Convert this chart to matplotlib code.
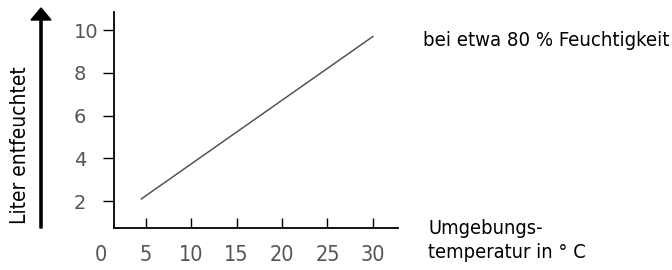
import matplotlib
matplotlib.use('Agg')
from matplotlib import pyplot as plt


# Temperatur (°C) und Liter entfeuchtet
temp = [4.5, 30]
liter = [2.1, 9.7]

x_ticks = [0, 5, 10, 15, 20, 25, 30]
y_ticks = [2, 4, 6, 8, 10]

narrow = dict(family='DejaVu Sans', stretch='condensed')


def main():
	fig = plt.figure(figsize=(6.72, 2.70), dpi=100)
	ax = fig.add_axes([0.1427, 0.1556, 0.4499, 0.80])

	ax.plot(temp, liter, color='#555555', lw=1.1)

	ax.set_xlim(-0.5, 32.8)
	ax.set_ylim(0.74, 10.85)

	for s in ['top', 'right']:
		ax.spines[s].set_visible(False)
	ax.spines['left'].set_position(('data', 1.5))
	ax.spines['bottom'].set_bounds(1.5, 32.8)
	for s in ['left', 'bottom']:
		ax.spines[s].set_linewidth(1.3)

	ax.set_xticks(x_ticks)
	ax.set_xticklabels([str(v) for v in x_ticks], fontsize=15.5, color='#555555', **narrow)
	ax.tick_params(axis='x', direction='in', length=7.5, width=1, pad=12.5)
	ax.xaxis.get_major_ticks()[0].tick1line.set_visible(False)

	ax.set_yticks(y_ticks)
	ax.set_yticklabels([str(v) for v in y_ticks], fontsize=14, color='#555555')
	ax.tick_params(axis='y', direction='out', length=8, width=1, pad=21)
	for lab in ax.get_yticklabels():
		lab.set_horizontalalignment('left')

	# Pfeil und Achsentitel links
	fig.patches.append(matplotlib.patches.FancyArrow(
		41 / 672, 1 - 228 / 270, 0, (228 - 8) / 270, width=0.0032,
		head_width=20 / 672, head_length=12 / 270, length_includes_head=True,
		color='black', transform=fig.transFigure, figure=fig))
	fig.text(20 / 672, 1 - 145 / 270, 'Liter entfeuchtet', rotation=90,
		ha='center', va='center', fontsize=15, **narrow)

	fig.text(423 / 672, 1 - 46 / 270, 'bei etwa 80 % Feuchtigkeit',
		ha='left', va='baseline', fontsize=14.6, **narrow)
	fig.text(428 / 672, 1 - 258 / 270, 'Umgebungs-\ntemperatur in ° C',
		ha='left', va='baseline', fontsize=14.4, linespacing=1.3, **narrow)

	fig.savefig('out.png', dpi=100)


main()
